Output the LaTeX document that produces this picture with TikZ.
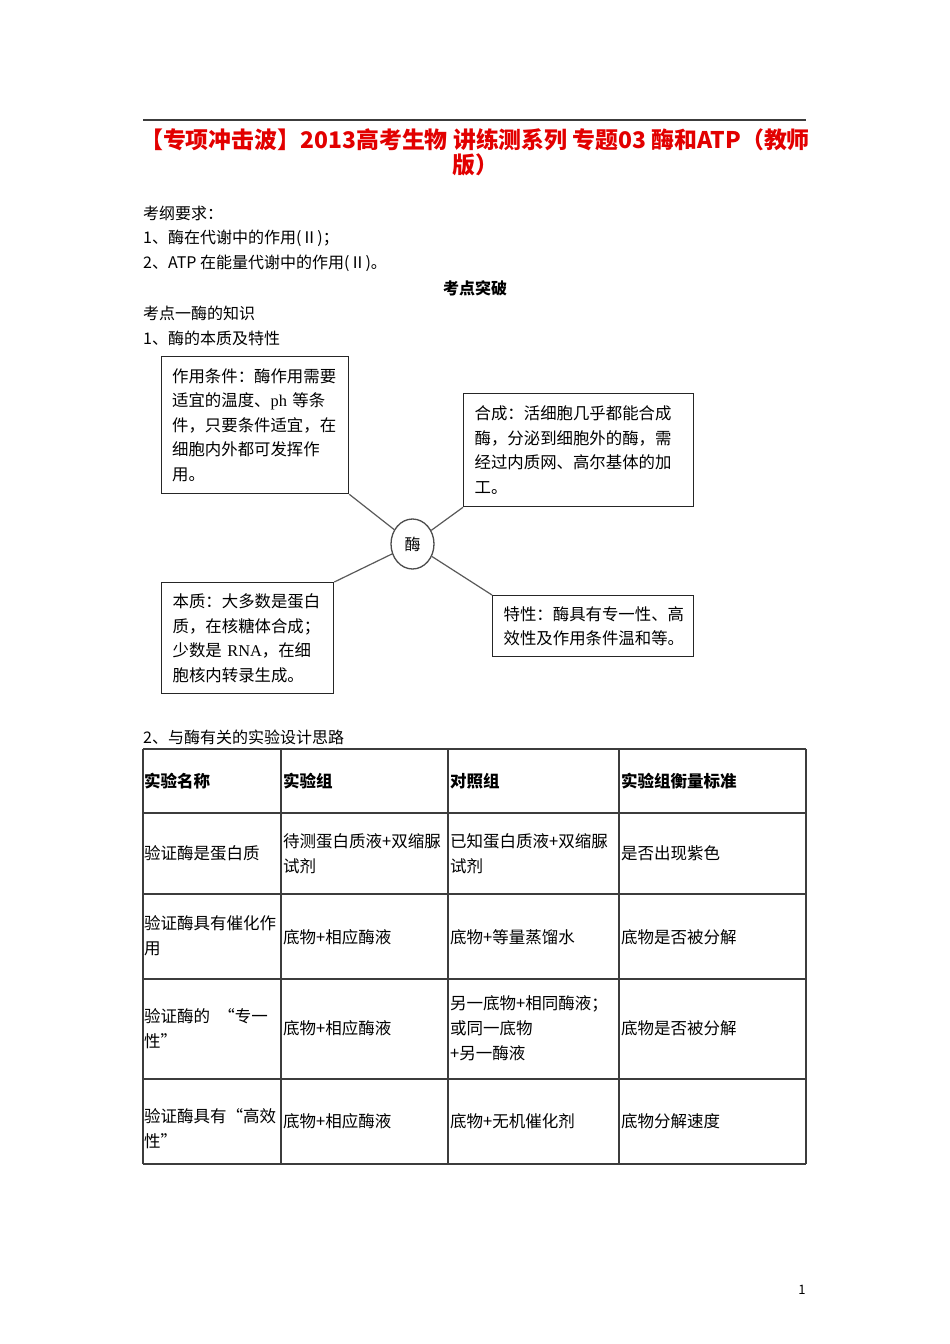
\documentclass[tikz,border=0pt]{standalone}
\usepackage{fontspec}
\setmainfont{Noto Sans CJK SC}
\newfontfamily\latinserif{Liberation Serif}
\usetikzlibrary{shapes.geometric}
\definecolor{titlered}{RGB}{226,0,0}
\definecolor{rulegray}{RGB}{60,60,60}
\tikzset{
  bodytxt/.style={anchor=west, inner sep=0pt, font=\fontsize{16}{25}\selectfont},
  titletxt/.style={align=center, inner sep=0pt, text=titlered,
    font=\fontsize{22.9}{25}\selectfont\bfseries},
  ideabox/.style={draw=black!85, line width=1.3pt, align=left, anchor=north west,
    inner xsep=10.5pt, inner ysep=0pt, font=\fontsize{16.4}{24.5}\selectfont},
  hub/.style={ellipse, draw=black!70, line width=1.3pt, minimum width=43pt,
    minimum height=50pt, inner sep=0pt, font=\fontsize{16}{16}\selectfont},
  spoke/.style={draw=black!65, line width=1.2pt},
  cell/.style={anchor=west, inner sep=0pt, align=left, font=\fontsize{16.5}{25}\selectfont},
  headcell/.style={cell, font=\fontsize{16.5}{25}\selectfont\bfseries},
  gridline/.style={draw=rulegray, line width=1.2pt},
}
\newcommand{\spokeline}[2]{\draw[spoke] (#1) -- (#2);}

\begin{document}
\begin{tikzpicture}[x=1pt, y=-1pt]
  \useasboundingbox (0,0) rectangle (950,1344);

  %% ---- heading ----
  \draw[draw=rulegray, line width=1.2pt] (143,120) -- (806,120);
  \node[titletxt] (title) at (475,152.5)
    {【专项冲击波】2013高考生物 讲练测系列 专题03 酶和ATP（教师\\版）};

  \node[bodytxt] (req)  at (143,213) {考纲要求：};
  \node[bodytxt] (req1) at (143,238) {1、酶在代谢中的作用(Ⅱ)；};
  \node[bodytxt] (req2) at (143,263) {2、ATP 在能量代谢中的作用(Ⅱ)。};
  \node[bodytxt, anchor=center, font=\fontsize{16}{25}\selectfont\bfseries] (kd) at (475,288) {考点突破};
  \node[bodytxt] (kd1)  at (143,313) {考点一酶的知识};
  \node[bodytxt] (kd11) at (143,338) {1、酶的本质及特性};

  %% ---- enzyme map ----
  \node[ideabox, text width=166pt, minimum height=137pt] (cond) at (161,356)
    {作用条件：酶作用需要\\适宜的温度、{\latinserif ph} 等条\\件，只要条件适宜，在\\细胞内外都可发挥作\\用。};
  \node[ideabox, inner xsep=11pt, text width=208pt, minimum height=113pt] (synth) at (463,393)
    {合成：活细胞几乎都能合成\\酶，分泌到细胞外的酶，需\\经过内质网、高尔基体的加\\工。};
  \node[ideabox, inner xsep=11pt, text width=150pt, minimum height=111pt] (nature) at (161,582)
    {本质：大多数是蛋白\\质，在核糖体合成；\\少数是 {\latinserif RNA}，在细\\胞核内转录生成。};
  \node[ideabox, inner xsep=11pt, text width=179pt, minimum height=61pt] (trait) at (492,595)
    {特性：酶具有专一性、高\\效性及作用条件温和等。};

  \node[hub] (enz) at (412.5,544) {酶};

  \spokeline{cond.south east}{enz}
  \spokeline{synth.south west}{enz}
  \spokeline{nature.north east}{enz}
  \spokeline{trait.north west}{enz}

  %% ---- experiment table ----
  \node[bodytxt] (kd12) at (143,737) {2、与酶有关的实验设计思路};

  \foreach \yy in {749,813,894,979,1079,1164}
    \draw[gridline] (143,\yy) -- (806,\yy);
  \foreach \xx in {143,281,448,619,806}
    \draw[gridline] (\xx,749) -- (\xx,1164);

  \node[headcell] (h1) at (144,781) {实验名称};
  \node[headcell] (h2) at (283,781) {实验组};
  \node[headcell] (h3) at (450,781) {对照组};
  \node[headcell] (h4) at (621,781) {实验组衡量标准};

  \node[cell] (a1) at (144,853) {验证酶是蛋白质};
  \node[cell] (a2) at (283,853.5) {待测蛋白质液+双缩脲\\试剂};
  \node[cell] (a3) at (450,853.5) {已知蛋白质液+双缩脲\\试剂};
  \node[cell] (a4) at (621,853) {是否出现紫色};

  \node[cell] (b1) at (144,936) {验证酶具有催化作\\用};
  \node[cell] (b2) at (283,937) {底物+相应酶液};
  \node[cell] (b3) at (450,937) {底物+等量蒸馏水};
  \node[cell] (b4) at (621,937) {底物是否被分解};

  \node[cell] (c1) at (144,1028.5) {验证酶的\enspace“专一\\性”};
  \node[cell] (c2) at (283,1028) {底物+相应酶液};
  \node[cell] (c3) at (450,1028.5) {另一底物+相同酶液；\\或同一底物\\+另一酶液};
  \node[cell] (c4) at (621,1028) {底物是否被分解};

  \node[cell] (d1) at (144,1129) {验证酶具有“高效\\性”};
  \node[cell] (d2) at (283,1121) {底物+相应酶液};
  \node[cell] (d3) at (450,1121) {底物+无机催化剂};
  \node[cell] (d4) at (621,1121) {底物分解速度};

  \node[bodytxt, anchor=center, font=\fontsize{13}{13}\selectfont] (pg) at (802,1290) {1};
\end{tikzpicture}
\end{document}
